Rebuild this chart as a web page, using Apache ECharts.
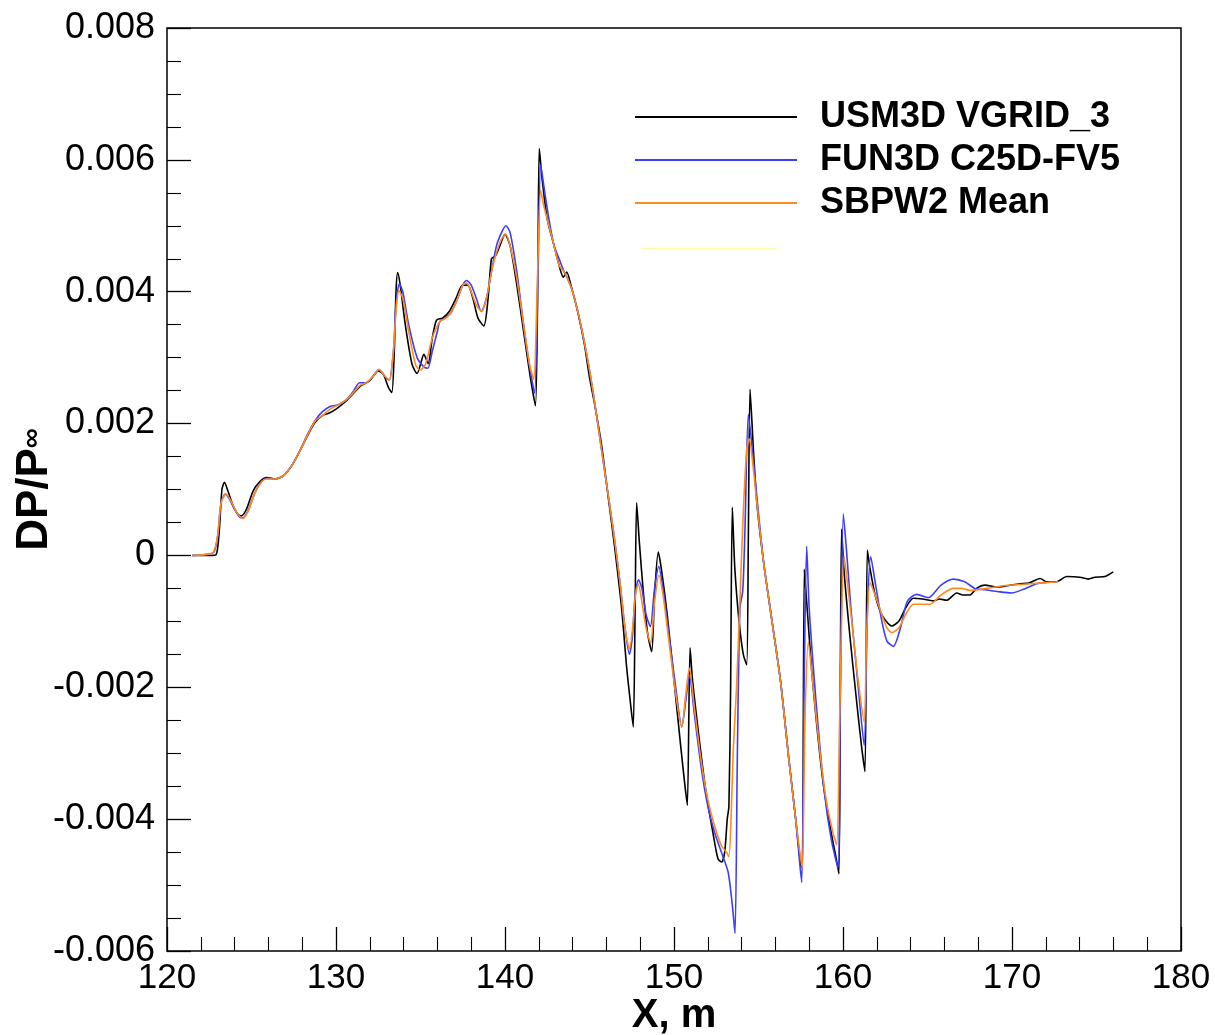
<!DOCTYPE html>
<html>
<head>
<meta charset="utf-8">
<title>DP/P∞ signature</title>
<script src="https://cdn.jsdelivr.net/npm/echarts@6/dist/echarts.min.js"></script>
<style>
  html, body { margin: 0; padding: 0; background: #fff; }
  #chart { width: 1215px; height: 1035px; }
</style>
</head>
<body>
<div id="chart"></div>
<script>
// Axis ranges and tick settings
const xRange = [120, 180];
const xStep = 10;
const yRange = [-0.006, 0.008];
const yStep = 0.002;

// Series names
const seriesNames = ['USM3D VGRID_3', 'FUN3D C25D-FV5', 'SBPW2 Mean'];

// USM3D VGRID_3: [X (m), DP/Pinf]
const usm3d = [
  [121.5, 0], [122.5, 0], [122.9, 0.00001], [123.1, 0.0004], [123.25, 0.001], [123.4, 0.00111],
  [123.6, 0.00098], [123.9, 0.00076], [124.2, 0.00062], [124.4, 0.0006], [124.7, 0.0007],
  [125.1, 0.00098], [125.5, 0.00112], [125.9, 0.00118], [126.4, 0.00116], [126.9, 0.00121],
  [127.4, 0.00137], [127.9, 0.0016], [128.4, 0.00186], [128.8, 0.00203], [129.2, 0.00212],
  [129.6, 0.00216], [130.0, 0.00222], [130.5, 0.00232], [131.0, 0.00245], [131.5, 0.00258],
  [132.0, 0.00265], [132.5, 0.0028], [132.8, 0.00275], [133.1, 0.00255], [133.3, 0.00247],
  [133.45, 0.0031], [133.55, 0.004], [133.65, 0.00429], [133.8, 0.0041], [134.1, 0.0035],
  [134.5, 0.0029], [134.8, 0.00276], [135.0, 0.0029], [135.2, 0.00305], [135.45, 0.00291],
  [135.7, 0.0033], [135.95, 0.00357], [136.3, 0.0036], [136.7, 0.0037], [137.1, 0.0039],
  [137.5, 0.0041], [137.8, 0.0041], [138.1, 0.0039], [138.4, 0.0036], [138.75, 0.00348],
  [139.0, 0.0039], [139.2, 0.0045], [139.45, 0.00455], [139.7, 0.0047], [140.0, 0.00487],
  [140.3, 0.0047], [140.7, 0.0041], [141.1, 0.0034], [141.5, 0.0027], [141.8, 0.00227],
  [141.95, 0.0045], [142.03, 0.00617], [142.2, 0.0057], [142.5, 0.0051], [142.9, 0.0047],
  [143.2, 0.0044], [143.45, 0.00422], [143.65, 0.0043], [143.9, 0.0041], [144.3, 0.0037],
  [144.7, 0.0032], [145.0, 0.0027], [145.3, 0.0023], [145.7, 0.0017], [146.1, 0.0009],
  [146.5, 0.0001], [146.9, -0.0008], [147.2, -0.0017], [147.45, -0.0023], [147.59, -0.0026],
  [147.7, -0.0008], [147.79, 0.0008], [147.95, 0.0002], [148.2, -0.0006], [148.45, -0.0012],
  [148.68, -0.00146], [148.85, -0.0006], [149.07, 0.00005], [149.25, -0.0002], [149.6, -0.0009],
  [150.0, -0.0019], [150.4, -0.0029], [150.65, -0.0035], [150.79, -0.00379], [150.95, -0.0014],
  [151.1, -0.0019], [151.5, -0.0028], [151.9, -0.0036], [152.3, -0.0042], [152.6, -0.0046],
  [152.82, -0.00465], [153.0, -0.0045], [153.15, -0.004], [153.25, -0.0038], [153.35, -0.002],
  [153.45, 0.00073], [153.6, -0.0002], [153.85, -0.001], [154.1, -0.0015], [154.3, -0.00166],
  [154.4, 0.0003], [154.5, 0.00252], [154.7, 0.0016], [154.9, 0.0008], [155.3, -0.0001],
  [155.8, -0.001], [156.3, -0.0019], [156.8, -0.0031], [157.2, -0.004], [157.5, -0.0047],
  [157.6, -0.00474], [157.71, -0.00021], [157.85, -0.0007], [158.2, -0.0019], [158.8, -0.0034],
  [159.3, -0.0042], [159.6, -0.0046], [159.76, -0.00483], [159.85, -0.0015], [159.92, 0.0004],
  [160.05, -0.0002], [160.4, -0.0012], [160.8, -0.0022], [161.1, -0.0029], [161.3, -0.00328],
  [161.44, 0.00008], [161.6, -0.0002], [161.9, -0.0006], [162.3, -0.0009], [162.88, -0.00107],
  [163.3, -0.001], [163.7, -0.0008], [164.16, -0.00065], [164.7, -0.00066], [165.34, -0.00069],
  [165.7, -0.00066], [166.13, -0.00068], [166.73, -0.00057], [167.1, -0.0006], [167.51, -0.0006],
  [167.9, -0.0005], [168.4, -0.00045], [169.1, -0.00048], [169.7, -0.00046], [170.47, -0.00043],
  [171.0, -0.00042], [171.66, -0.00035], [172.05, -0.0004], [172.64, -0.0004], [173.24, -0.00032],
  [174.02, -0.00033], [174.52, -0.00036], [174.9, -0.00033], [175.5, -0.00032], [175.99, -0.00025]
];

// FUN3D C25D-FV5: [X (m), DP/Pinf]
const fun3d = [
  [121.5, 0], [122.5, 0.00002], [122.8, 0.00006], [123.0, 0.0003], [123.2, 0.0008], [123.45, 0.00093],
  [123.7, 0.00085], [124.0, 0.0007], [124.3, 0.00058], [124.5, 0.00057], [124.8, 0.00068],
  [125.2, 0.00095], [125.6, 0.00112], [125.9, 0.00117], [126.4, 0.00116], [126.9, 0.00121],
  [127.4, 0.00137], [127.9, 0.00161], [128.4, 0.00188], [128.8, 0.00206], [129.2, 0.00218],
  [129.65, 0.00226], [130.1, 0.00228], [130.6, 0.00236], [131.0, 0.00248], [131.4, 0.00262],
  [131.8, 0.00262], [132.2, 0.00272], [132.55, 0.00282], [132.9, 0.00271], [133.15, 0.00266],
  [133.4, 0.0031], [133.55, 0.0038], [133.75, 0.00412], [133.95, 0.004], [134.3, 0.0035],
  [134.8, 0.003], [135.2, 0.00286], [135.43, 0.00284], [135.7, 0.0031], [136.0, 0.0034],
  [136.15, 0.00355], [136.5, 0.00361], [136.85, 0.0037], [137.2, 0.0039], [137.5, 0.0041],
  [137.73, 0.00417], [138.0, 0.0041], [138.3, 0.0039], [138.6, 0.0037], [138.9, 0.0039],
  [139.2, 0.0043], [139.5, 0.0047], [139.8, 0.0049], [140.05, 0.005], [140.3, 0.0049],
  [140.7, 0.0043], [141.1, 0.0035], [141.5, 0.0028], [141.75, 0.00246], [141.95, 0.0042],
  [142.11, 0.00593], [142.3, 0.0056], [142.6, 0.0051], [142.9, 0.0047], [143.2, 0.0045],
  [143.5, 0.0043], [143.7, 0.0042], [144.0, 0.004], [144.4, 0.0036], [144.8, 0.0031],
  [145.2, 0.0025], [145.6, 0.0018], [146.0, 0.0011], [146.4, 0.0004], [146.8, -0.0004],
  [147.1, -0.0011], [147.36, -0.0015], [147.55, -0.0012], [147.7, -0.0006], [147.9, -0.00037],
  [148.1, -0.0005], [148.35, -0.0009], [148.6, -0.00108], [148.85, -0.0005], [149.1, -0.00017],
  [149.35, -0.0005], [149.7, -0.0012], [150.1, -0.002], [150.46, -0.0026], [150.7, -0.0022],
  [150.91, -0.00181], [151.2, -0.0024], [151.6, -0.0032], [152.0, -0.0038], [152.4, -0.0042],
  [152.8, -0.0045], [153.2, -0.0048], [153.45, -0.0053], [153.61, -0.00573], [153.75, -0.003],
  [153.9, -0.0008], [154.07, -0.00053], [154.2, 0.0004], [154.4, 0.00214], [154.6, 0.0017],
  [154.9, 0.0009], [155.3, -0.0001], [155.8, -0.001], [156.3, -0.0019], [156.8, -0.0031],
  [157.2, -0.004], [157.45, -0.0047], [157.56, -0.00496], [157.7, -0.002], [157.85, 0.00014],
  [158.0, -0.0008], [158.4, -0.0022], [158.9, -0.0036], [159.3, -0.0043], [159.7, -0.00474],
  [159.85, -0.002], [160.02, 0.00063], [160.2, 0.0001], [160.5, -0.0009], [160.9, -0.002],
  [161.25, -0.00288], [161.45, -0.0008], [161.64, -0.00002], [161.9, -0.0004], [162.3, -0.001],
  [162.6, -0.0013], [162.98, -0.00138], [163.4, -0.0011], [163.8, -0.0007], [164.36, -0.00059],
  [165.05, -0.00064], [165.8, -0.00045], [166.53, -0.00036], [167.2, -0.0004], [167.8, -0.0005],
  [168.4, -0.00052], [169.2, -0.00055], [169.98, -0.00057], [170.8, -0.0005], [171.46, -0.00043],
  [172.0, -0.00041], [172.44, -0.0004]
];

// SBPW2 Mean: [X (m), DP/Pinf]
const sbpw2Mean = [
  [121.5, 0], [122.5, 0.00002], [122.75, 0.00005], [123.0, 0.0003], [123.2, 0.0008], [123.49, 0.00093],
  [123.8, 0.00082], [124.1, 0.00066], [124.48, 0.00056], [124.8, 0.00067], [125.2, 0.00095],
  [125.6, 0.00112], [125.9, 0.00116], [126.4, 0.00116], [126.9, 0.00121], [127.4, 0.00137],
  [127.9, 0.0016], [128.4, 0.00187], [128.8, 0.00205], [129.25, 0.00213], [129.65, 0.00222],
  [130.1, 0.00228], [130.6, 0.00236], [131.0, 0.00246], [131.42, 0.00258], [131.8, 0.00262],
  [132.2, 0.00272], [132.54, 0.00282], [132.9, 0.00272], [133.15, 0.00266], [133.4, 0.0031],
  [133.55, 0.0037], [133.72, 0.00402], [133.95, 0.0039], [134.3, 0.0034], [134.7, 0.0029],
  [134.97, 0.00281], [135.3, 0.0029], [135.7, 0.0033], [136.15, 0.00355], [136.5, 0.0036],
  [136.85, 0.0037], [137.2, 0.0039], [137.5, 0.0041], [137.73, 0.00413], [138.0, 0.004],
  [138.3, 0.0038], [138.62, 0.0037], [138.9, 0.0039], [139.2, 0.0043], [139.5, 0.0046],
  [139.8, 0.0048], [140.04, 0.00487], [140.3, 0.0047], [140.7, 0.0042], [141.1, 0.0035],
  [141.45, 0.0029], [141.7, 0.00267], [141.9, 0.004], [142.11, 0.00554], [142.3, 0.0053],
  [142.6, 0.005], [142.9, 0.0047], [143.2, 0.0044], [143.5, 0.0043], [143.7, 0.0042],
  [144.0, 0.004], [144.4, 0.0036], [144.8, 0.0031], [145.2, 0.0025], [145.6, 0.0018],
  [146.0, 0.0011], [146.4, 0.0004], [146.8, -0.0004], [147.1, -0.0011], [147.36, -0.00142],
  [147.55, -0.0011], [147.72, -0.0006], [147.89, -0.00043], [148.1, -0.0007], [148.35, -0.0011],
  [148.62, -0.00133], [148.85, -0.0007], [149.11, -0.0003], [149.35, -0.0006], [149.7, -0.0013],
  [150.1, -0.0021], [150.46, -0.0026], [150.7, -0.0021], [150.91, -0.00171], [151.2, -0.0023],
  [151.6, -0.0031], [152.0, -0.0037], [152.4, -0.0041], [152.8, -0.0044], [153.1, -0.0045],
  [153.25, -0.00457], [153.4, -0.0038], [153.51, -0.00294], [153.7, -0.002], [153.9, -0.00068],
  [154.1, 0.00066], [154.3, 0.0016], [154.45, 0.00177], [154.7, 0.0013], [154.9, 0.0008],
  [155.3, -0.0001], [155.8, -0.001], [156.3, -0.0019], [156.8, -0.0031], [157.2, -0.004],
  [157.5, -0.0046], [157.6, -0.00474], [157.75, -0.0025], [157.95, -0.00131], [158.2, -0.0019],
  [158.6, -0.0029], [159.0, -0.0037], [159.4, -0.0042], [159.63, -0.00439], [159.8, -0.0025],
  [160.06, 0.0], [160.3, -0.0005], [160.6, -0.0012], [160.9, -0.0019], [161.25, -0.00253],
  [161.4, -0.0012], [161.6, -0.00041], [161.9, -0.0006], [162.3, -0.0009], [162.6, -0.0011],
  [162.9, -0.00117], [163.3, -0.0011], [163.7, -0.0009], [164.16, -0.00074], [164.6, -0.00074],
  [165.15, -0.00074], [165.8, -0.0006], [166.53, -0.0005], [167.0, -0.0005], [167.51, -0.00053],
  [168.5, -0.0005], [169.49, -0.00046], [170.5, -0.00044], [171.6, -0.00042], [172.74, -0.0004]
];

const lineColors = ['#000000', '#3c3cff', '#ff8a1e'];
const FONT = '"Liberation Sans", Arial, Helvetica, sans-serif';

const chart = echarts.init(document.getElementById('chart'), null, { renderer: 'canvas' });

function fmtY(v) {
  if (Math.abs(v) < 1e-9) return '0';
  return v.toFixed(3);
}

const option = {
  animation: false,
  backgroundColor: '#ffffff',
  grid: {
    left: 167, right: 34, top: 28, bottom: 84,
    containLabel: false,
    outerBoundsMode: 'none',
    show: true, borderColor: '#000', borderWidth: 1.5, backgroundColor: 'transparent'
  },
  legend: {
    orient: 'vertical',
    left: 630, top: 94,
    itemWidth: 162, itemHeight: 2, itemGap: 7,
    icon: 'rect',
    selectedMode: false,
    textStyle: {
      fontFamily: FONT, fontWeight: 'bold', fontSize: 36, color: '#000',
      lineHeight: 36, padding: [0, 0, 0, 18]
    },
    data: seriesNames
  },
  xAxis: {
    type: 'value',
    min: xRange[0], max: xRange[1], interval: xStep,
    name: 'X, m', nameLocation: 'middle', nameGap: 45, nameMoveOverlap: false,
    nameTextStyle: { fontFamily: FONT, fontWeight: 'bold', fontSize: 40, color: '#000' },
    axisLine: { show: false, onZero: false },
    axisTick: { show: true, inside: true, length: 24, lineStyle: { color: '#000', width: 1.3 } },
    minorTick: { show: true, splitNumber: 5, length: 14, lineStyle: { color: '#000', width: 1.1 } },
    axisLabel: { fontFamily: FONT, fontSize: 35, color: '#000', margin: 10 },
    splitLine: { show: false }
  },
  yAxis: {
    type: 'value',
    min: yRange[0], max: yRange[1], interval: yStep,
    name: '{a|DP/P}{b|∞}', nameLocation: 'middle', nameGap: 110, nameRotate: 90, nameMoveOverlap: false,
    nameTextStyle: {
      color: '#000',
      rich: {
        a: { fontFamily: FONT, fontWeight: 'bold', fontSize: 44, color: '#000' },
        b: { fontFamily: FONT, fontWeight: 'bold', fontSize: 28, color: '#000', padding: [0, 0, 6, 0] }
      }
    },
    axisLine: { show: false, onZero: false },
    axisTick: { show: true, inside: true, length: 24, lineStyle: { color: '#000', width: 1.3 } },
    minorTick: { show: true, splitNumber: 4, length: 14, lineStyle: { color: '#000', width: 1.1 } },
    axisLabel: { fontFamily: FONT, fontSize: 36, color: '#000', margin: 12, formatter: fmtY },
    splitLine: { show: false }
  },
  graphic: [{
    type: 'line',
    shape: { x1: 642, y1: 248.5, x2: 776, y2: 248.5 },
    style: { stroke: '#ffffa8', lineWidth: 1.5 },
    silent: true
  }],
  series: [usm3d, fun3d, sbpw2Mean].map((data, i) => ({
    name: seriesNames[i],
    type: 'line',
    data: data,
    showSymbol: false,
    symbol: 'none',
    smooth: 0.25,
    lineStyle: { color: lineColors[i], width: 1.6 },
    itemStyle: { color: lineColors[i] },
    z: 2 + i
  }))
};

chart.setOption(option);
</script>
</body>
</html>
